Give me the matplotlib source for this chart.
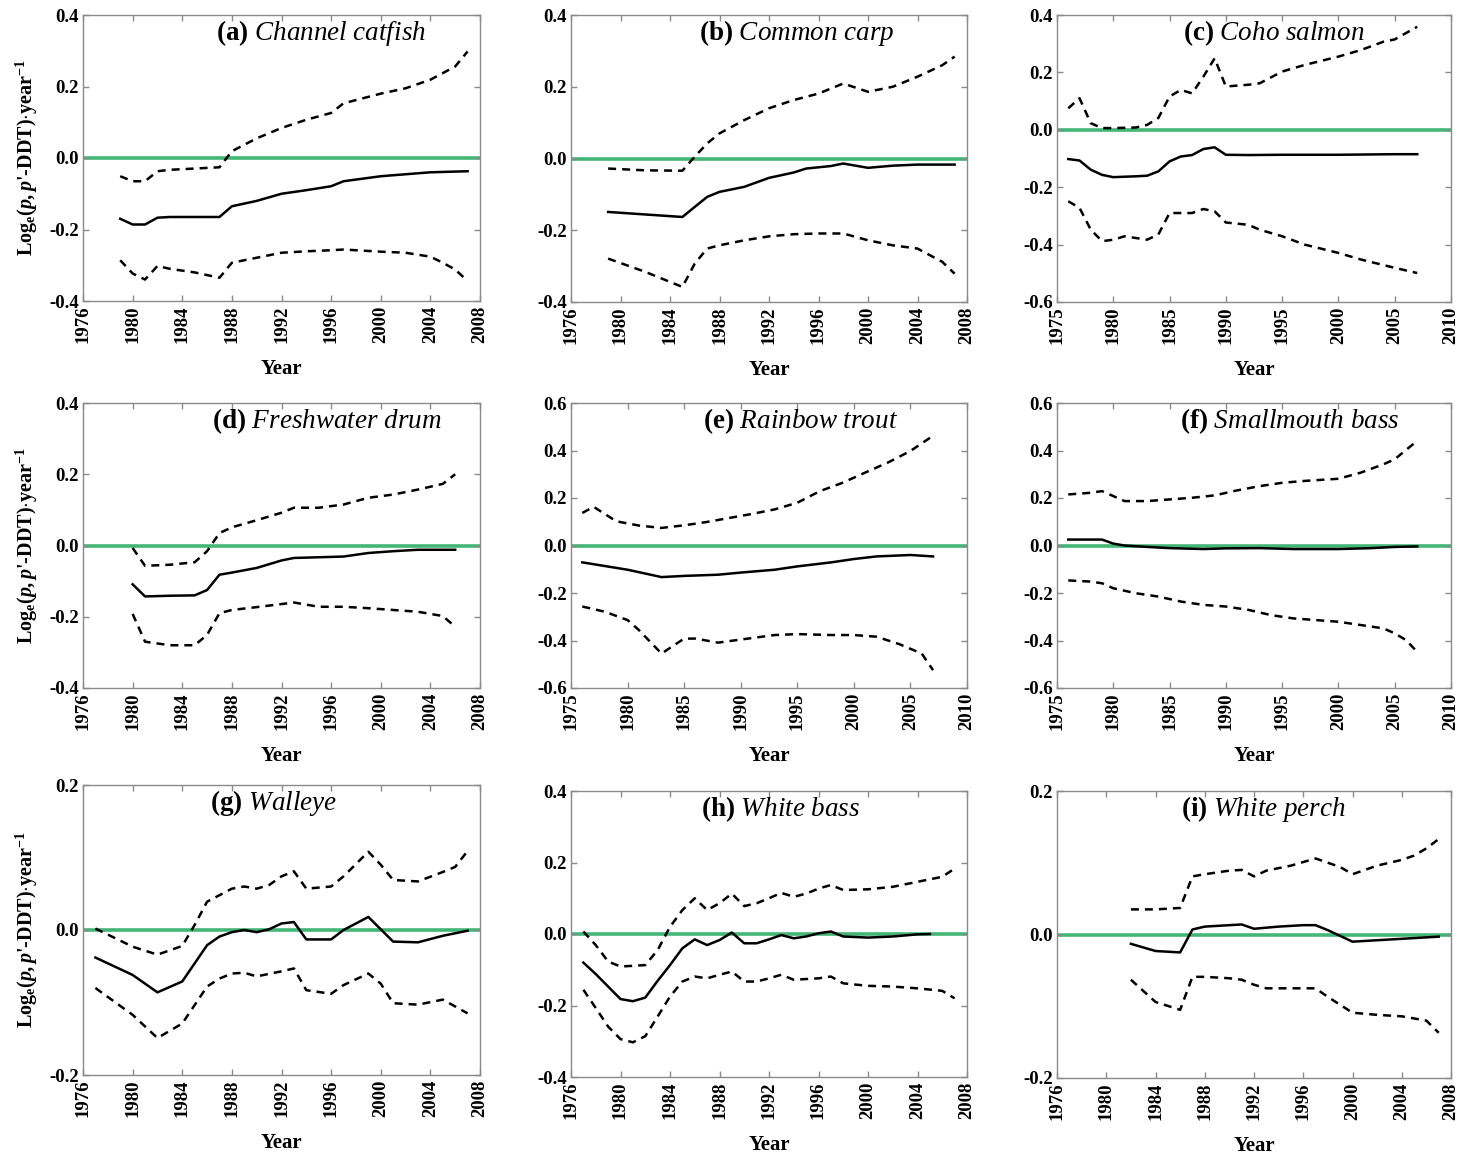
import matplotlib
matplotlib.use("Agg")
import matplotlib.pyplot as plt
from matplotlib import ticker

plt.rcParams['font.family'] = ['Liberation Serif', 'DejaVu Serif']
plt.rcParams['axes.unicode_minus'] = False
plt.rcParams['mathtext.fontset'] = 'custom'
plt.rcParams['mathtext.rm'] = 'Liberation Serif:bold'
plt.rcParams['mathtext.bf'] = 'Liberation Serif:bold'
plt.rcParams['mathtext.it'] = 'Liberation Serif:italic'
plt.rcParams['mathtext.sf'] = 'Liberation Serif:bold:italic'

# ---- data ----
# (a) Channel catfish
a_yr_m = [1979, 1980, 1981, 1982, 1983, 1987, 1988, 1990, 1992, 1994, 1996, 1997, 2000, 2004, 2007]
a_m = [-0.170, -0.186, -0.186, -0.167, -0.165, -0.165, -0.135, -0.120, -0.100, -0.090, -0.079, -0.065, -0.051, -0.040, -0.037]
a_yr_u = [1979, 1980, 1981, 1982, 1983, 1987, 1988, 1990, 1992, 1994, 1996, 1997, 2000, 2002, 2004, 2006, 2007]
a_u = [-0.051, -0.065, -0.065, -0.037, -0.033, -0.026, 0.019, 0.055, 0.084, 0.107, 0.126, 0.153, 0.180, 0.195, 0.219, 0.256, 0.298]
a_yr_l = [1979, 1980, 1981, 1982, 1983, 1985, 1987, 1988, 1990, 1992, 1994, 1996, 1997, 2000, 2002, 2004, 2005, 2006, 2007]
a_l = [-0.286, -0.323, -0.340, -0.302, -0.310, -0.320, -0.335, -0.293, -0.279, -0.265, -0.261, -0.258, -0.256, -0.262, -0.265, -0.276, -0.293, -0.312, -0.344]

# (b) Common carp
b_yr_m = [1979, 1985, 1986, 1987, 1988, 1990, 1992, 1994, 1995, 1997, 1998, 2000, 2002, 2004, 2007]
b_m = [-0.149, -0.163, -0.135, -0.107, -0.093, -0.079, -0.054, -0.039, -0.028, -0.021, -0.014, -0.026, -0.020, -0.017, -0.017]
b_yr_u = [1979, 1982, 1985, 1986, 1987, 1988, 1990, 1992, 1994, 1996, 1998, 2000, 2002, 2004, 2006, 2007]
b_u = [-0.028, -0.033, -0.034, 0.005, 0.042, 0.070, 0.107, 0.140, 0.163, 0.181, 0.209, 0.186, 0.200, 0.228, 0.260, 0.284]
b_yr_l = [1979, 1982, 1985, 1986, 1987, 1988, 1990, 1992, 1994, 1996, 1998, 2000, 2002, 2004, 2006, 2007]
b_l = [-0.279, -0.316, -0.358, -0.293, -0.251, -0.242, -0.228, -0.217, -0.211, -0.209, -0.209, -0.228, -0.242, -0.251, -0.288, -0.321]

# (c) Coho salmon
c_yr_m = [1976, 1977, 1978, 1979, 1980, 1982, 1983, 1984, 1985, 1986, 1987, 1988, 1989, 1990, 1992, 1995, 2000, 2005, 2007]
c_m = [-0.102, -0.107, -0.139, -0.157, -0.165, -0.162, -0.160, -0.145, -0.110, -0.093, -0.088, -0.067, -0.061, -0.087, -0.088, -0.087, -0.087, -0.085, -0.085]
c_yr_u = [1976, 1977, 1978, 1979, 1980, 1982, 1983, 1984, 1985, 1986, 1987, 1988, 1989, 1990, 1992, 1993, 1995, 1997, 2000, 2002, 2004, 2005, 2007]
c_u = [0.075, 0.110, 0.023, 0.006, 0.006, 0.008, 0.017, 0.041, 0.116, 0.139, 0.127, 0.185, 0.249, 0.151, 0.157, 0.162, 0.203, 0.226, 0.255, 0.278, 0.307, 0.315, 0.359]
c_yr_l = [1976, 1977, 1978, 1979, 1980, 1981, 1983, 1984, 1985, 1987, 1988, 1989, 1990, 1992, 1993, 1995, 1997, 2000, 2002, 2005, 2007]
c_l = [-0.249, -0.272, -0.348, -0.388, -0.383, -0.371, -0.383, -0.365, -0.290, -0.290, -0.276, -0.284, -0.323, -0.331, -0.348, -0.371, -0.400, -0.429, -0.452, -0.481, -0.499]

# (d) Freshwater drum
d_yr_m = [1980, 1981, 1983, 1985, 1986, 1987, 1988, 1990, 1992, 1993, 1995, 1997, 1999, 2001, 2003, 2006]
d_m = [-0.109, -0.143, -0.141, -0.140, -0.125, -0.082, -0.076, -0.063, -0.042, -0.035, -0.033, -0.031, -0.021, -0.016, -0.012, -0.012]
d_yr_u = [1980, 1981, 1983, 1985, 1986, 1987, 1988, 1990, 1992, 1993, 1995, 1997, 1999, 2001, 2003, 2005, 2006]
d_u = [-0.007, -0.057, -0.054, -0.047, -0.016, 0.035, 0.051, 0.071, 0.092, 0.106, 0.106, 0.115, 0.134, 0.143, 0.157, 0.173, 0.200]
d_yr_l = [1980, 1981, 1983, 1985, 1986, 1987, 1988, 1990, 1993, 1995, 1997, 1999, 2001, 2003, 2005, 2006]
d_l = [-0.192, -0.270, -0.280, -0.280, -0.251, -0.190, -0.181, -0.173, -0.160, -0.172, -0.172, -0.176, -0.181, -0.186, -0.198, -0.228]

# (e) Rainbow trout
e_yr_m = [1976, 1980, 1983, 1985, 1988, 1990, 1993, 1995, 1998, 2000, 2002, 2005, 2007]
e_m = [-0.071, -0.102, -0.133, -0.128, -0.123, -0.114, -0.102, -0.088, -0.071, -0.057, -0.046, -0.040, -0.046]
e_yr_u = [1976, 1977, 1979, 1981, 1983, 1985, 1987, 1989, 1991, 1993, 1995, 1997, 1999, 2001, 2003, 2005, 2007]
e_u = [0.137, 0.163, 0.102, 0.084, 0.074, 0.085, 0.099, 0.116, 0.133, 0.152, 0.180, 0.229, 0.264, 0.307, 0.349, 0.398, 0.462]
e_yr_l = [1976, 1978, 1980, 1981, 1983, 1985, 1986, 1988, 1990, 1993, 1995, 1998, 2000, 2002, 2004, 2006, 2007]
e_l = [-0.257, -0.279, -0.314, -0.356, -0.455, -0.392, -0.392, -0.409, -0.396, -0.377, -0.373, -0.377, -0.377, -0.384, -0.415, -0.455, -0.525]

# (f) Smallmouth bass
f_yr_m = [1976, 1978, 1979, 1980, 1981, 1983, 1985, 1988, 1990, 1993, 1996, 2000, 2003, 2005, 2007]
f_m = [0.025, 0.025, 0.025, 0.008, 0.000, -0.006, -0.011, -0.015, -0.012, -0.011, -0.015, -0.015, -0.011, -0.006, -0.004]
f_yr_u = [1976, 1978, 1979, 1980, 1981, 1983, 1985, 1987, 1989, 1991, 1993, 1995, 1997, 2000, 2002, 2004, 2005, 2007]
f_u = [0.215, 0.222, 0.229, 0.208, 0.187, 0.187, 0.194, 0.201, 0.211, 0.232, 0.250, 0.264, 0.272, 0.281, 0.307, 0.342, 0.363, 0.441]
f_yr_l = [1976, 1978, 1979, 1980, 1982, 1984, 1986, 1988, 1990, 1992, 1994, 1996, 1998, 2000, 2002, 2004, 2005, 2006, 2007]
f_l = [-0.147, -0.152, -0.159, -0.180, -0.201, -0.215, -0.236, -0.250, -0.257, -0.271, -0.293, -0.307, -0.314, -0.321, -0.335, -0.349, -0.370, -0.398, -0.448]

# (g) Walleye
g_yr_m = [1977, 1980, 1982, 1984, 1986, 1987, 1988, 1989, 1990, 1991, 1992, 1993, 1994, 1996, 1997, 1999, 2001, 2003, 2005, 2007]
g_m = [-0.038, -0.062, -0.086, -0.071, -0.021, -0.009, -0.003, 0.000, -0.003, 0.001, 0.009, 0.011, -0.013, -0.013, 0.000, 0.018, -0.016, -0.017, -0.008, -0.001]
g_yr_u = [1977, 1980, 1982, 1984, 1985, 1986, 1988, 1989, 1990, 1991, 1992, 1993, 1994, 1996, 1997, 1999, 2000, 2001, 2003, 2005, 2006, 2007]
g_u = [0.002, -0.023, -0.034, -0.022, 0.007, 0.039, 0.057, 0.060, 0.057, 0.062, 0.074, 0.081, 0.057, 0.060, 0.074, 0.108, 0.090, 0.069, 0.067, 0.080, 0.087, 0.109]
g_yr_l = [1977, 1980, 1982, 1984, 1986, 1987, 1988, 1989, 1990, 1992, 1993, 1994, 1996, 1997, 1999, 2000, 2001, 2003, 2005, 2007]
g_l = [-0.080, -0.117, -0.149, -0.129, -0.078, -0.067, -0.060, -0.059, -0.064, -0.057, -0.053, -0.083, -0.088, -0.076, -0.060, -0.074, -0.101, -0.103, -0.096, -0.115]

# (h) White bass
h_yr_m = [1977, 1978, 1979, 1980, 1981, 1982, 1983, 1984, 1985, 1986, 1987, 1988, 1989, 1990, 1991, 1992, 1993, 1994, 1995, 1996, 1997, 1998, 2000, 2002, 2004, 2005]
h_m = [-0.080, -0.112, -0.147, -0.182, -0.188, -0.178, -0.131, -0.087, -0.040, -0.015, -0.031, -0.017, 0.004, -0.026, -0.026, -0.015, -0.003, -0.012, -0.007, 0.002, 0.007, -0.007, -0.010, -0.007, -0.001, 0.000]
h_yr_u = [1977, 1978, 1979, 1980, 1982, 1983, 1984, 1985, 1986, 1987, 1988, 1989, 1990, 1991, 1992, 1993, 1994, 1995, 1996, 1997, 1998, 2000, 2002, 2004, 2006, 2007]
h_u = [0.007, -0.031, -0.077, -0.091, -0.087, -0.045, 0.020, 0.067, 0.100, 0.067, 0.086, 0.113, 0.078, 0.086, 0.100, 0.115, 0.104, 0.113, 0.127, 0.137, 0.123, 0.125, 0.132, 0.146, 0.160, 0.183]
h_yr_l = [1977, 1978, 1979, 1980, 1981, 1982, 1983, 1984, 1985, 1986, 1987, 1988, 1989, 1990, 1991, 1992, 1993, 1994, 1996, 1997, 1998, 2000, 2002, 2004, 2006, 2007]
h_l = [-0.156, -0.207, -0.259, -0.294, -0.303, -0.286, -0.231, -0.175, -0.133, -0.119, -0.124, -0.114, -0.105, -0.133, -0.133, -0.124, -0.114, -0.128, -0.124, -0.119, -0.138, -0.145, -0.147, -0.152, -0.159, -0.180]

# (i) White perch
i_yr_m = [1982, 1984, 1986, 1987, 1988, 1990, 1991, 1992, 1994, 1996, 1997, 1998, 2000, 2002, 2004, 2007]
i_m = [-0.013, -0.023, -0.025, 0.007, 0.011, 0.013, 0.014, 0.008, 0.011, 0.013, 0.013, 0.006, -0.010, -0.008, -0.006, -0.003]
i_yr_u = [1982, 1984, 1986, 1987, 1988, 1990, 1991, 1992, 1993, 1995, 1997, 1999, 2000, 2002, 2004, 2005, 2006, 2007]
i_u = [0.035, 0.035, 0.037, 0.081, 0.084, 0.089, 0.090, 0.081, 0.089, 0.096, 0.106, 0.094, 0.084, 0.096, 0.104, 0.110, 0.120, 0.133]
i_yr_l = [1982, 1984, 1986, 1987, 1988, 1990, 1991, 1992, 1993, 1995, 1997, 1998, 2000, 2002, 2004, 2006, 2007]
i_l = [-0.063, -0.094, -0.105, -0.059, -0.059, -0.061, -0.063, -0.070, -0.075, -0.075, -0.075, -0.087, -0.109, -0.112, -0.114, -0.120, -0.137]

letters = ['a', 'b', 'c', 'd', 'e', 'f', 'g', 'h', 'i']
species = ['Channel catfish', 'Common carp', 'Coho salmon', 'Freshwater drum', 'Rainbow trout',
           'Smallmouth bass', 'Walleye', 'White bass', 'White perch']
series = [(a_yr_m, a_m, a_yr_u, a_u, a_yr_l, a_l), (b_yr_m, b_m, b_yr_u, b_u, b_yr_l, b_l),
          (c_yr_m, c_m, c_yr_u, c_u, c_yr_l, c_l), (d_yr_m, d_m, d_yr_u, d_u, d_yr_l, d_l),
          (e_yr_m, e_m, e_yr_u, e_u, e_yr_l, e_l), (f_yr_m, f_m, f_yr_u, f_u, f_yr_l, f_l),
          (g_yr_m, g_m, g_yr_u, g_u, g_yr_l, g_l), (h_yr_m, h_m, h_yr_u, h_u, h_yr_l, h_l),
          (i_yr_m, i_m, i_yr_u, i_u, i_yr_l, i_l)]
xranges = [(1976, 2008, 4), (1976, 2008, 4), (1975, 2010, 5), (1976, 2008, 4), (1975, 2010, 5),
           (1975, 2010, 5), (1976, 2008, 4), (1976, 2008, 4), (1976, 2008, 4)]
yranges = [(-0.4, 0.4), (-0.4, 0.4), (-0.6, 0.4), (-0.4, 0.4), (-0.6, 0.6), (-0.6, 0.6),
           (-0.2, 0.2), (-0.4, 0.4), (-0.2, 0.2)]
ystep = 0.2

# layout (pixels)
W, H = 1460, 1157
cols = [(83, 480), (571, 967), (1057, 1451)]
rows = [[(15, 301), (15, 302), (15, 302)],
        [(403, 688), (403, 688), (403, 688)],
        [(785, 1075), (791, 1077), (791, 1078)]]
title_x = [0.60, 0.57, 0.55, 0.615, 0.58, 0.59, 0.48, 0.53, 0.525]

fig = plt.figure(figsize=(W / 100, H / 100), dpi=100)
grey = '#8a8a8a'
ylab = r"Log$_\mathrm{e}$($\mathsf{p,p}$'-DDT)$\cdot$year$^\mathrm{-1}$"

for k in range(9):
    r, c = divmod(k, 3)
    x0, x1 = cols[c]
    t, b = rows[r][c]
    ax = fig.add_axes([x0 / W, 1 - b / H, (x1 - x0) / W, (b - t) / H])
    yr_m, m, yr_u, u, yr_l, l = series[k]
    ax.axhline(0, color='#43b574', lw=2.6, zorder=1)
    ax.plot(yr_m, m, color='black', lw=1.8, zorder=3)
    ax.plot(yr_u, u, color='black', lw=1.8, ls=(0, (3.2, 2.4)), zorder=3)
    ax.plot(yr_l, l, color='black', lw=1.8, ls=(0, (3.2, 2.4)), zorder=3)

    xa, xb, xs = xranges[k]
    ax.set_xlim(xa, xb)
    ax.set_xticks(range(xa, xb + 1, xs))
    ya, yb = yranges[k]
    ax.set_ylim(ya, yb)
    ax.yaxis.set_major_locator(ticker.MultipleLocator(ystep))
    ax.yaxis.set_major_formatter(ticker.FormatStrFormatter('%.1f'))
    ax.tick_params(direction='in', length=4, width=1, color=grey, top=True, right=True,
                   labelsize=13.5, pad=3)
    for lab in ax.get_xticklabels():
        lab.set_rotation(90)
        lab.set_fontweight('bold')
    for lab in ax.get_yticklabels():
        lab.set_fontweight('bold')
    for sp in ax.spines.values():
        sp.set_color(grey)
        sp.set_linewidth(1.0)

    ax.set_xlabel('Year', fontsize=15, fontweight='bold')
    ax.xaxis.set_label_coords(0.5, -58 / (b - t))
    ax.text(title_x[k], 1 - 18 / (b - t),
            '(%s) $\\mathit{%s}$' % (letters[k], species[k].replace(' ', '\\ ')),
            transform=ax.transAxes, ha='center', va='center', fontsize=19.5, fontweight='bold')
    if c == 0:
        fig.text(27 / W, 1 - (t + b) / 2 / H, ylab, rotation=90, ha='center', va='center',
                 fontsize=14.5, fontweight='bold')

fig.savefig('out.png', dpi=100)
